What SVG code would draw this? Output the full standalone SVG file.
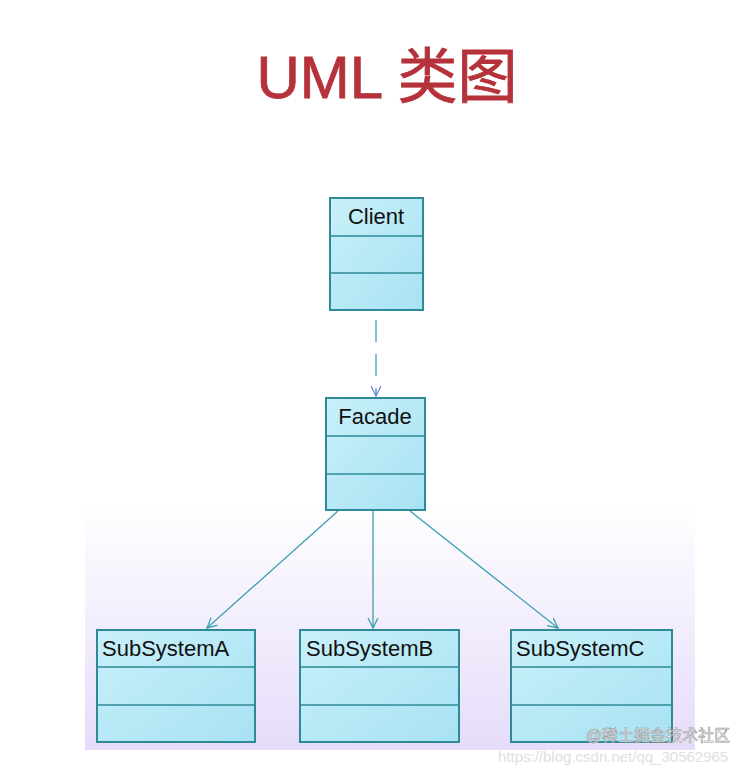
<svg xmlns="http://www.w3.org/2000/svg" width="750" height="768" viewBox="0 0 750 768">
<style>
.box{fill:url(#bx);stroke:#2e8a96;stroke-width:2}
.div{stroke:#2e8a96;stroke-width:1.5}
.lbl{font-family:"Liberation Sans",Arial,sans-serif;font-size:22px;fill:#111}
.con{stroke:#3aa0b0;stroke-width:1.3;fill:none}
</style>
<defs>
<linearGradient id="bx" x1="0" y1="0" x2="1" y2="1"><stop offset="0" stop-color="#c8f0fa"/><stop offset="1" stop-color="#a8e2f2"/></linearGradient>
<linearGradient id="bg" x1="0" y1="0" x2="0" y2="1"><stop offset="0" stop-color="#fff"/><stop offset="1" stop-color="#e6dcfa"/></linearGradient>
<marker id="ar" markerWidth="12" markerHeight="12" refX="10" refY="6" orient="auto" markerUnits="userSpaceOnUse"><path d="M0,1 L10,6 L0,11" fill="none" stroke="#3aa0b0" stroke-width="1.3"/></marker>
<marker id="ar2" markerWidth="12" markerHeight="12" refX="10" refY="6" orient="auto" markerUnits="userSpaceOnUse"><path d="M0,1 L10,6 L0,11" fill="none" stroke="#7a80d0" stroke-width="1.3"/></marker>
</defs>
<rect width="750" height="768" fill="#fff"/>
<rect x="85" y="500" width="610" height="250" fill="url(#bg)"/>
<text x="387" y="98" text-anchor="middle" font-family="Liberation Sans,'Noto Sans CJK SC',sans-serif" font-size="60" fill="#b5323a" stroke="#b5323a" stroke-width="0.8">UML 类图</text>
<g id="connectors">
<line class="con" x1="376" y1="320" x2="376" y2="396" stroke-dasharray="22,12" stroke="#999" marker-end="url(#ar2)"/>
<line class="con" x1="338" y1="511" x2="207" y2="628" marker-end="url(#ar)"/>
<line class="con" x1="373" y1="511" x2="373" y2="628" marker-end="url(#ar)"/>
<line class="con" x1="410" y1="511" x2="558" y2="628" marker-end="url(#ar)"/>
</g>
<g id="client"><rect class="box" x="330" y="198" width="93" height="112"/><line class="div" x1="330" y1="236" x2="423" y2="236"/><line class="div" x1="330" y1="273" x2="423" y2="273"/><text class="lbl" x="376" y="224" text-anchor="middle">Client</text></g>
<g id="facade"><rect class="box" x="326" y="398" width="99" height="112"/><line class="div" x1="326" y1="436" x2="425" y2="436"/><line class="div" x1="326" y1="474" x2="425" y2="474"/><text class="lbl" x="375" y="424" text-anchor="middle">Facade</text></g>
<g id="subA"><rect class="box" x="97" y="630" width="158" height="112"/><line class="div" x1="97" y1="667" x2="255" y2="667"/><line class="div" x1="97" y1="705" x2="255" y2="705"/><text class="lbl" x="102" y="656">SubSystemA</text></g>
<g id="subB"><rect class="box" x="300" y="630" width="159" height="112"/><line class="div" x1="300" y1="667" x2="459" y2="667"/><line class="div" x1="300" y1="705" x2="459" y2="705"/><text class="lbl" x="306" y="656">SubSystemB</text></g>
<g id="subC"><rect class="box" x="511" y="630" width="161" height="112"/><line class="div" x1="511" y1="667" x2="672" y2="667"/><line class="div" x1="511" y1="705" x2="672" y2="705"/><text class="lbl" x="516" y="656">SubSystemC</text></g>
<text x="730" y="741" text-anchor="end" font-family="Liberation Sans,'Noto Sans CJK SC',sans-serif" font-size="16" fill="#fff" stroke="#999" stroke-width="0.6">@稀土掘金技术社区</text>
<text x="498" y="762" font-family="Liberation Sans,sans-serif" font-size="15" fill="#e0e0e0">https://blog.csdn.net/qq_30562965</text>
</svg>
